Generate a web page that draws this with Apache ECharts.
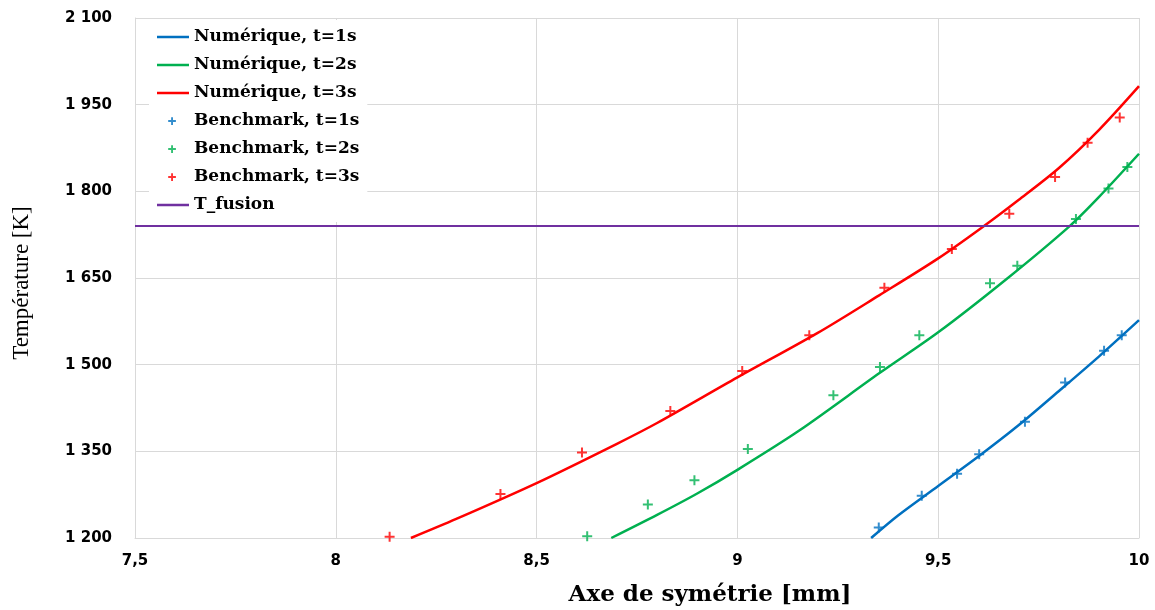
<!DOCTYPE html>
<html>
<head>
<meta charset="utf-8">
<script src="https://cdn.jsdelivr.net/npm/echarts@6/dist/echarts.min.js"></script>
<style>
html,body{margin:0;padding:0;background:#fff;}
#c{width:1155px;height:610px;}
</style>
</head>
<body>
<div id="c"></div>
<script>
// ---- data ----
const xTicks = [7.5, 8, 8.5, 9, 9.5, 10];
const yTicks = [1200, 1350, 1500, 1650, 1800, 1950, 2100];

const seriesNames = ['Numérique, t=1s', 'Numérique, t=2s', 'Numérique, t=3s',
  'Benchmark, t=1s', 'Benchmark, t=2s', 'Benchmark, t=3s', 'T_fusion'];

const num1 = [[9.333,1200],[9.4,1239],[9.5,1290],[9.6,1341],[9.7,1395],[9.8,1454],[9.9,1514],[10,1577]];
const num2 = [[8.686,1200],[8.8,1240],[8.9,1277],[9.0,1318],[9.154,1386],[9.353,1485],[9.5,1556],[9.668,1647],[9.826,1739],[9.9,1790],[10,1865]];
const num3 = [[8.187,1200],[8.3,1233],[8.5,1295],[8.7,1363],[8.8,1399],[9.0,1478],[9.2,1555],[9.353,1620],[9.5,1684],[9.614,1740],[9.7,1785],[9.8,1840],[9.9,1906],[10,1982]];

const bench1 = [[9.352,1218],[9.459,1273],[9.547,1311],[9.602,1345],[9.716,1401],[9.816,1469],[9.913,1524],[9.957,1551]];
const bench2 = [[8.626,1203],[8.777,1258],[8.893,1300],[9.026,1354],[9.239,1447],[9.355,1496],[9.453,1551],[9.629,1641],[9.697,1671],[9.843,1752],[9.924,1805],[9.971,1842]];
const bench3 = [[8.134,1202],[8.41,1276],[8.613,1348],[8.833,1420],[9.012,1489],[9.179,1551],[9.366,1633],[9.534,1700],[9.677,1761],[9.791,1825],[9.872,1884],[9.952,1928]];

const tFusion = 1740;
const tFusionLine = [[7.5, tFusion], [10, tFusion]];

const colors = ['#0070C0', '#00B050', '#FF0000', '#0070C0', '#00B050', '#FF0000', '#7030A0'];

// ---- chart ----
const plusSymbol = 'path://M4,0h2v4h4v2h-4v4h-2v-4h-4v-2h4z';
const legendCorners = 'M0,0L0.01,0L0,0.01Z M32,14L31.99,14L32,13.99Z ';
const legendPlus = 'path://' + legendCorners + 'M14.1,3.2h1.9v2.9h2.9v1.9h-2.9v2.9h-1.9v-2.9h-2.9v-1.9h2.9z';
const legendLine = 'path://' + legendCorners + 'M0,5.8h32v2.4h-32z';

function fmtThousands(v) {
  return String(v).replace(/\B(?=(\d{3})+(?!\d))/g, '\u00a0');
}

const chart = echarts.init(document.getElementById('c'), null, {renderer: 'canvas'});

function lineSeries(i, data, width) {
  return {
    name: seriesNames[i], type: 'line', data: data, symbol: 'none',
    smooth: 0.3,
    lineStyle: {color: colors[i], width: width}, itemStyle: {color: colors[i]},
    animation: false, z: 2
  };
}
function benchSeries(i, data) {
  return {
    name: seriesNames[i], type: 'scatter', data: data, symbol: plusSymbol, symbolSize: 10,
    itemStyle: {color: colors[i]}, animation: false, z: 3
  };
}

chart.setOption({
  animation: false,
  backgroundColor: '#fff',
  grid: {left: 135, right: 16, top: 18, bottom: 72, containLabel: false, outerBoundsMode: 'none'},
  legend: {
    orient: 'vertical', left: 149, top: 20,
    padding: [7, 8, 7, 8], itemGap: 8, itemWidth: 32, itemHeight: 14,
    backgroundColor: '#fff',
    textStyle: {fontFamily: 'DejaVu Serif', fontWeight: 'bold', fontSize: 17, color: '#000', lineHeight: 20},
    data: [
      {name: seriesNames[0], icon: legendLine, itemStyle: {color: colors[0]}},
      {name: seriesNames[1], icon: legendLine, itemStyle: {color: colors[1]}},
      {name: seriesNames[2], icon: legendLine, itemStyle: {color: colors[2]}},
      {name: seriesNames[3], icon: legendPlus},
      {name: seriesNames[4], icon: legendPlus},
      {name: seriesNames[5], icon: legendPlus},
      {name: seriesNames[6], icon: legendLine, itemStyle: {color: colors[6]}}
    ],
    z: 10
  },
  xAxis: {
    type: 'value', min: xTicks[0], max: xTicks[xTicks.length - 1], interval: 0.5,
    name: 'Axe de symétrie [mm]', nameLocation: 'middle', nameGap: 46,
    nameTextStyle: {fontFamily: 'DejaVu Serif', fontWeight: 'bold', fontSize: 23, color: '#000', padding: [0, 0, 0, 146]},
    axisLine: {show: true, lineStyle: {color: '#d9d9d9', width: 1}},
    axisTick: {show: false},
    splitLine: {show: true, lineStyle: {color: '#d9d9d9', width: 1}},
    axisLabel: {
      margin: 16, color: '#000', fontFamily: 'DejaVu Sans', fontWeight: 'bold', fontSize: 15,
      formatter: v => String(v).replace('.', ',')
    }
  },
  yAxis: {
    type: 'value', min: yTicks[0], max: yTicks[yTicks.length - 1], interval: 150,
    name: 'Température [K]', nameLocation: 'middle', nameGap: 102, nameRotate: 90,
    nameTextStyle: {fontFamily: 'Liberation Serif', fontSize: 23, color: '#000', padding: [0, 10, 0, 0]},
    axisLine: {show: true, lineStyle: {color: '#d9d9d9', width: 1}},
    axisTick: {show: false},
    splitLine: {show: true, lineStyle: {color: '#d9d9d9', width: 1}},
    axisLabel: {
      margin: 23, color: '#000', fontFamily: 'DejaVu Sans', fontWeight: 'bold', fontSize: 15,
      formatter: v => fmtThousands(v)
    }
  },
  series: [
    lineSeries(0, num1, 2.5),
    lineSeries(1, num2, 2.5),
    lineSeries(2, num3, 2.5),
    benchSeries(3, bench1),
    benchSeries(4, bench2),
    benchSeries(5, bench3),
    {
      name: seriesNames[6], type: 'line', data: tFusionLine, symbol: 'none',
      lineStyle: {color: colors[6], width: 2}, itemStyle: {color: colors[6]}, z: 2
    }
  ]
});
</script>
</body>
</html>
